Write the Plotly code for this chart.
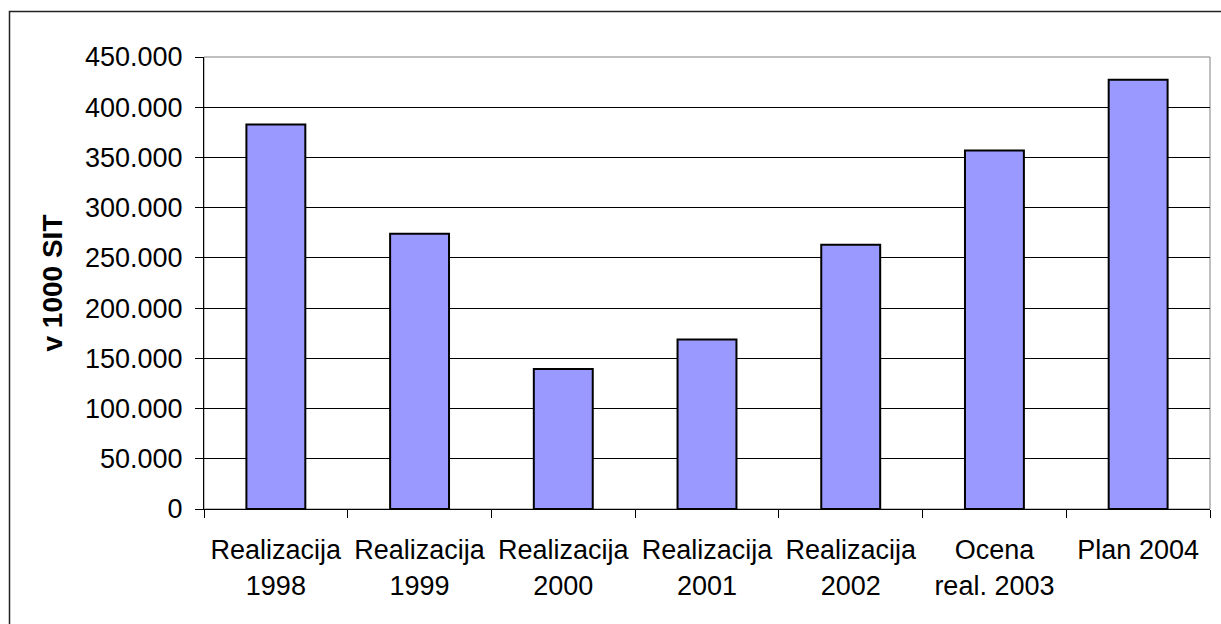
import plotly.graph_objects as go

categories = ["Realizacija<br>1998", "Realizacija<br>1999", "Realizacija<br>2000",
              "Realizacija<br>2001", "Realizacija<br>2002", "Ocena<br>real. 2003", "Plan 2004"]
values = [382800, 274000, 139300, 168700, 263000, 356800, 427400]
y_title = "v 1000 SIT"
y_ticks = [0, 50000, 100000, 150000, 200000, 250000, 300000, 350000, 400000, 450000]

W, H = 1221, 624
L, R, T, B = 204, 11, 57, 115
pw, ph = W - L - R, H - T - B

font = "Liberation Sans, Arial, sans-serif"

fig = go.Figure(go.Bar(
    x=categories, y=values,
    marker=dict(color="#9999FF", line=dict(color="#000000", width=2)),
    hoverinfo="skip",
))

def px_to_paper_x(p):
    return (p - L) / pw

def px_to_paper_y(p):
    return (H - B - p) / ph

fig.update_layout(
    width=W, height=H,
    margin=dict(l=L, r=R, t=T, b=B, pad=0),
    paper_bgcolor="white", plot_bgcolor="white",
    separators=",.",
    bargap=0.59,
    showlegend=False,
    font=dict(family=font, size=27, color="black"),
    xaxis=dict(
        type="category",
        showgrid=False,
        showline=True, linecolor="black", linewidth=1,
        ticks="outside", tickson="boundaries", ticklen=8, tickcolor="black", tickwidth=1,
        tickfont=dict(family=font, size=27, color="black"),
        ticklabelstandoff=17,
    ),
    yaxis=dict(
        range=[0, 450000],
        tickvals=y_ticks,
        tickformat=",d",
        showgrid=True, gridcolor="black", gridwidth=1,
        showline=True, linecolor="black", linewidth=1,
        ticks="outside", ticklen=8, tickcolor="black", tickwidth=1,
        tickfont=dict(family=font, size=27, color="black"),
        ticklabelstandoff=7,
        zeroline=False,
        title=dict(text="<b>" + y_title + "</b>", font=dict(family=font, size=28, color="black"), standoff=14),
    ),
    shapes=[
        dict(type="rect", xref="paper", yref="paper", x0=0, x1=1, y0=0, y1=1,
             line=dict(color="#808080", width=1), layer="below"),
        dict(type="rect", xref="paper", yref="paper",
             x0=px_to_paper_x(9.5), x1=px_to_paper_x(1240),
             y0=px_to_paper_y(650), y1=px_to_paper_y(11.5),
             line=dict(color="#222222", width=1.5), layer="below"),
    ],
)

fig.write_html("out.html", config={"displayModeBar": False},
               post_script="document.body.style.margin='0';document.body.style.overflow='hidden';")
